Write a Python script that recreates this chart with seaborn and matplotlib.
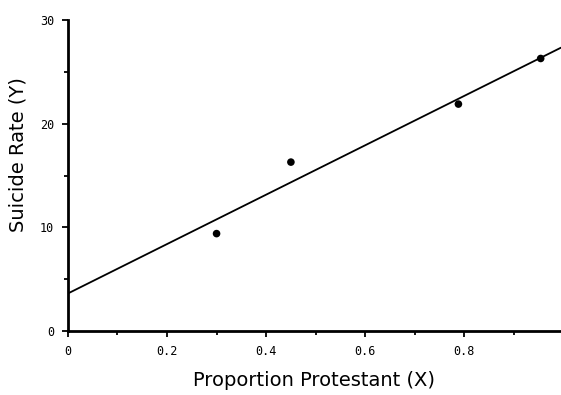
import numpy as np
import pandas as pd
import matplotlib
matplotlib.use("Agg")
import matplotlib.pyplot as plt
import seaborn as sns
from matplotlib.ticker import MultipleLocator

# proportion protestant vs suicide rate
prop_protestant = [0.30, 0.45, 0.788, 0.954]
suicide_rate = [9.4, 16.3, 21.9, 26.3]

x_ticks = [0, 0.2, 0.4, 0.6, 0.8]
x_tick_labels = ["0", "0.2", "0.4", "0.6", "0.8"]
y_ticks = [0, 10, 20, 30]
y_tick_labels = ["0", "10", "20", "30"]

df = pd.DataFrame({"x": prop_protestant, "y": suicide_rate})

sns.set_style("white")
plt.rcParams["text.color"] = "black"
plt.rcParams["axes.labelcolor"] = "black"
plt.rcParams["xtick.color"] = "black"
plt.rcParams["ytick.color"] = "black"

fig = plt.figure(figsize=(5.61, 3.95), dpi=100)
ax = fig.add_axes([0.121, 0.162, 0.879, 0.787])

# limits first so the fitted line runs across the whole axis
ax.set_xlim(0, 0.995)
ax.set_ylim(0, 30)

sns.regplot(
    data=df, x="x", y="y", ax=ax, ci=None, truncate=False,
    scatter_kws={"s": 30, "color": "black", "edgecolor": "none", "alpha": 1},
    line_kws={"color": "black", "linewidth": 1.3},
)

ax.set_xlim(0, 0.995)
ax.set_ylim(0, 30)

ax.set_xticks(x_ticks)
ax.set_xticklabels(x_tick_labels, family="DejaVu Sans Mono", fontsize=8.5)
ax.set_yticks(y_ticks)
ax.set_yticklabels(y_tick_labels, family="DejaVu Sans Mono", fontsize=8.5)
ax.xaxis.set_minor_locator(MultipleLocator(0.1))
ax.yaxis.set_minor_locator(MultipleLocator(5))

ax.tick_params(axis="both", which="major", direction="out", length=4, width=1.3,
               color="black", pad=6, bottom=True, left=True)
ax.tick_params(axis="both", which="minor", direction="out", length=3, width=1.3,
               color="black", bottom=True, left=True)

sns.despine(ax=ax)
for side in ["left", "bottom"]:
    ax.spines[side].set_color("black")
    ax.spines[side].set_linewidth(2)

ax.set_xlabel("Proportion Protestant (X)", fontsize=14)
ax.set_ylabel("Suicide Rate (Y)", fontsize=14)
ax.xaxis.set_label_coords(0.5, -0.128)
ax.yaxis.set_label_coords(-0.082, 0.566)

fig.savefig("out.png", dpi=100)
